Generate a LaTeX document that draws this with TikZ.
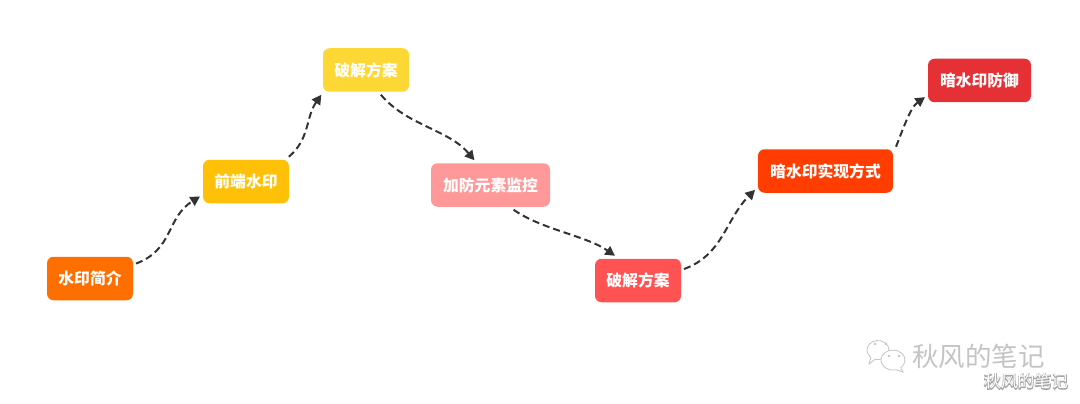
\documentclass[tikz,border=0pt]{standalone}
\usepackage{xcolor}
\usepackage{fontspec}
\usetikzlibrary{arrows.meta}
\newfontfamily\cjk{Noto Sans CJK SC}
\newfontfamily\cjkhalo[FakeBold=8]{Noto Sans CJK SC}
\definecolor{dashline}{HTML}{333333}
\definecolor{markgrey}{HTML}{C4C4C4}
\tikzset{
    stage/.style={rounded corners=6.5pt, minimum height=43.5pt, inner sep=0pt, outer sep=3pt, text=white,
        font=\cjk\bfseries\fontsize{15.8}{18}\selectfont},
    link/.style={draw=dashline, line width=2pt, dash pattern=on 7pt off 4pt, -{Triangle[length=9.5pt,width=10pt]}},
    markbubble/.style={draw=markgrey, fill=white, line width=.8pt},
}
\begin{document}
\begin{tikzpicture}[x=1pt, y=-1pt]
    \fill[white] (0, 0) rectangle (1080, 404);
    \useasboundingbox (0, 0) rectangle (1080, 404);

    \node (0) at (90, 278.5) [stage, fill={rgb,255:red,255;green,111;blue,0}, minimum width=86pt] {水印简介};
    \node (1) at (246, 181.5) [stage, fill={rgb,255:red,255;green,193;blue,7}, minimum width=86pt] {前端水印};
    \node (2) at (366, 70) [stage, fill={rgb,255:red,253;green,216;blue,53}, minimum width=86pt] {破解方案};
    \node (3) at (490.5, 185) [stage, fill={rgb,255:red,255;green,153;blue,153}, minimum width=119pt] {加防元素监控};
    \node (4) at (638, 280.5) [stage, fill={rgb,255:red,255;green,82;blue,82}, minimum width=86pt] {破解方案};
    \node (5) at (825.5, 171) [stage, fill={rgb,255:red,255;green,61;blue,0}, minimum width=135pt] {暗水印实现方式};
    \node (6) at (979.5, 80.5) [stage, fill={rgb,255:red,229;green,48;blue,53}, minimum width=103pt] {暗水印防御};

    \draw[link] (0.18) to[out=20, in=212, looseness=1.1] (1.198);
    \draw[link] (1.30) to[out=40, in=235, looseness=1] (2.209);
    \draw[link] (2.-59) to[out=-50, in=130, looseness=.9] (3.123);
    \draw[link] (3.-47) to[out=-35, in=145, looseness=.8] (4.133);
    \draw[link] (4.14) to[out=20, in=225, looseness=1] (5.195);
    \draw[link] (5.19) to[out=68, in=215, looseness=.8] (6.197);

    % watermark
    \draw[markbubble] (869, 364) -- (870.9, 357.3) arc[start angle=130, end angle=465, x radius=11, y radius=9.5] -- cycle;
    \draw[markbubble] (903, 372) -- (900.7, 367.7) arc[start angle=50, end angle=-285, x radius=12, y radius=10] -- cycle;
    \fill[markgrey] (875, 344) circle (1.3) (886, 344) circle (1.3) (889, 356) circle (1.3) (899, 356) circle (1.3);
    \node (7) at (978.5, 356.5) [text=markgrey, font=\cjk\fontsize{26.5}{28}\selectfont, inner sep=0pt] {秋风的笔记};
    \node (8) at (1026, 381.5) [text=gray!70, font=\cjkhalo\fontsize{16.8}{18}\selectfont, inner sep=0pt] {秋风的笔记};
    \node (9) at (8) [text=white, font=\cjk\fontsize{16.8}{18}\selectfont, inner sep=0pt] {秋风的笔记};
\end{tikzpicture}
\end{document}
